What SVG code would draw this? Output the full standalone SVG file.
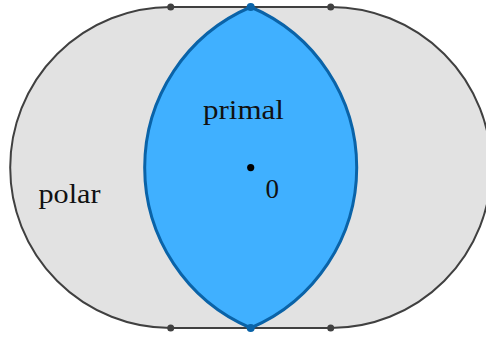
<svg xmlns="http://www.w3.org/2000/svg" width="486" height="337" viewBox="0 0 486 337">
<style>
.lbl{font-family:"Liberation Serif","DejaVu Serif",serif;font-size:27px;fill:#111}
.gdot{fill:#404040}
.bdot{fill:#0a63a8}
</style>
<rect width="486" height="337" fill="#ffffff"/>
<g id="polar">
<path d="M170.7,7 H330.7 A160.5,160.5 0 0 1 330.7,328 H170.7 A160.5,160.5 0 0 1 170.7,7 Z" fill="#e2e2e2" stroke="#404040" stroke-width="2"/>
<circle class="gdot" cx="170.7" cy="7" r="3.5"/>
<circle class="gdot" cx="330.7" cy="7" r="3.5"/>
<circle class="gdot" cx="170.7" cy="328" r="3.5"/>
<circle class="gdot" cx="330.7" cy="328" r="3.5"/>
<text class="lbl" x="38.5" y="203" textLength="62" lengthAdjust="spacingAndGlyphs">polar</text>
</g>
<g id="primal">
<path d="M250.7,7 A174.5,174.5 0 0 0 250.7,328 A174.5,174.5 0 0 0 250.7,7 Z" fill="#40b0ff" stroke="#0a63a8" stroke-width="3"/>
<circle class="bdot" cx="250.7" cy="7" r="4"/>
<circle class="bdot" cx="250.7" cy="328" r="4"/>
<text class="lbl" x="203" y="119" textLength="81" lengthAdjust="spacingAndGlyphs">primal</text>
</g>
<g id="origin">
<circle cx="250.7" cy="167.6" r="3.6" fill="#000"/>
<text class="lbl" x="265.5" y="198">0</text>
</g>
<g id="connectors"/>
</svg>
